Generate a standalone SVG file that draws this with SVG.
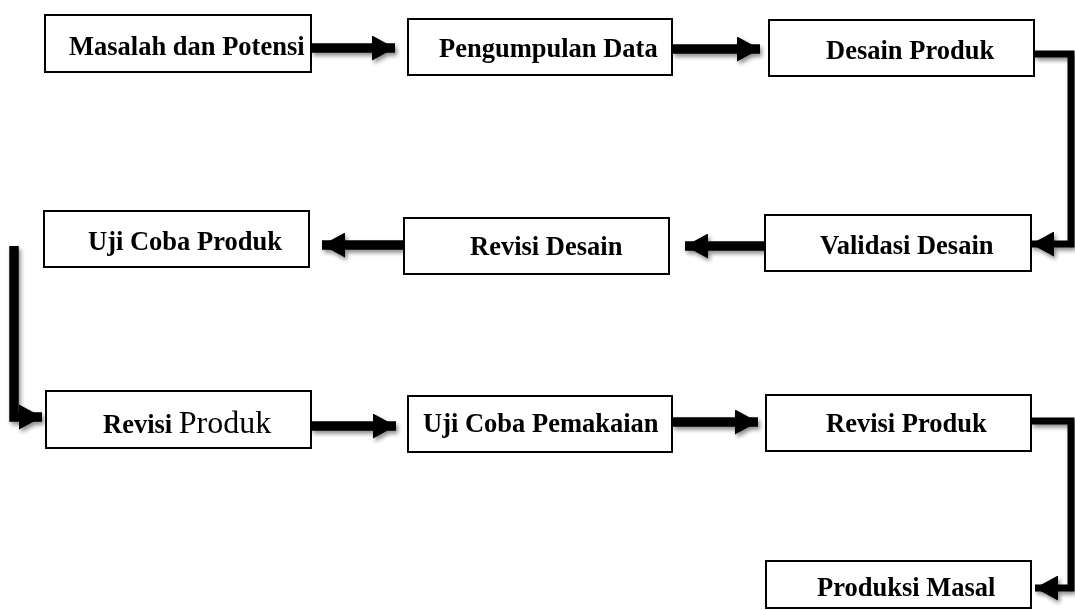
<svg xmlns="http://www.w3.org/2000/svg" width="1075" height="610" viewBox="0 0 1075 610">
<style>
  .box rect { fill: #fff; stroke: #000; stroke-width: 2; }
  .box text { font-family: "Liberation Serif", "Times New Roman", serif; font-weight: bold; font-size: 26.5px; fill: #000; }
  .box text .reg { font-weight: normal; font-size: 32px; }
  .conn { fill: none; stroke: #000; stroke-width: 9.5; stroke-linejoin: miter; stroke-linecap: butt; marker-end: url(#head); }
  .conn.thin { stroke-width: 7; }
  .ghost { fill: none; stroke: #bdbdbd; stroke-width: 6; filter: url(#blur); }
</style>
<defs>
  <marker id="head" viewBox="0 0 23 25" refX="23" refY="12.5" markerWidth="23" markerHeight="25" markerUnits="userSpaceOnUse" orient="auto">
    <path d="M0,0 L23,12.5 L0,25 Z" fill="#000"/>
  </marker>
  <filter id="shadow" x="-10%" y="-10%" width="130%" height="140%">
    <feGaussianBlur in="SourceAlpha" stdDeviation="2"/>
    <feOffset dx="2" dy="3" result="b"/>
    <feComponentTransfer><feFuncA type="linear" slope="0.45"/></feComponentTransfer>
    <feMerge><feMergeNode/><feMergeNode in="SourceGraphic"/></feMerge>
  </filter>
  <filter id="blur"><feGaussianBlur stdDeviation="1.2"/></filter>
</defs>
<rect width="1075" height="610" fill="#fff"/>
<g id="connectors" filter="url(#shadow)">
  <path class="conn" d="M311,48 H395"/>
  <path class="conn" d="M672,49 H760"/>
  <path class="conn thin" d="M1034,54 H1071 V244 H1031"/>
  <path class="conn" d="M765,246 H685"/>
  <path class="conn" d="M404,245 H322"/>
  <path class="ghost" d="M18,250 H44"/>
  <path class="conn" d="M14,246 V417 H42"/>
  <path class="conn" d="M311,426 H396"/>
  <path class="conn" d="M672,422 H758"/>
  <path class="conn thin" d="M1031,421 H1071 V588 H1035"/>
</g>
<g id="n1" class="box"><rect x="45" y="15" width="266" height="57"/><text x="69" y="55">Masalah dan Potensi</text></g>
<g id="n2" class="box"><rect x="408" y="19" width="264" height="56"/><text x="439" y="57">Pengumpulan Data</text></g>
<g id="n3" class="box"><rect x="769" y="20" width="265" height="56"/><text x="826" y="59">Desain Produk</text></g>
<g id="n4" class="box"><rect x="44" y="211" width="265" height="56"/><text x="88" y="250">Uji Coba Produk</text></g>
<g id="n5" class="box"><rect x="404" y="218" width="265" height="56"/><text x="470" y="255">Revisi Desain</text></g>
<g id="n6" class="box"><rect x="765" y="215" width="266" height="56"/><text x="820" y="254">Validasi Desain</text></g>
<g id="n7" class="box"><rect x="46" y="391" width="265" height="57"/><text x="103" y="433">Revisi <tspan class="reg">Produk</tspan></text></g>
<g id="n8" class="box"><rect x="408" y="396" width="264" height="56"/><text x="423" y="432">Uji Coba Pemakaian</text></g>
<g id="n9" class="box"><rect x="766" y="395" width="265" height="56"/><text x="826" y="432">Revisi Produk</text></g>
<g id="n10" class="box"><rect x="766" y="561" width="265" height="47"/><text x="817" y="596">Produksi Masal</text></g>
</svg>
